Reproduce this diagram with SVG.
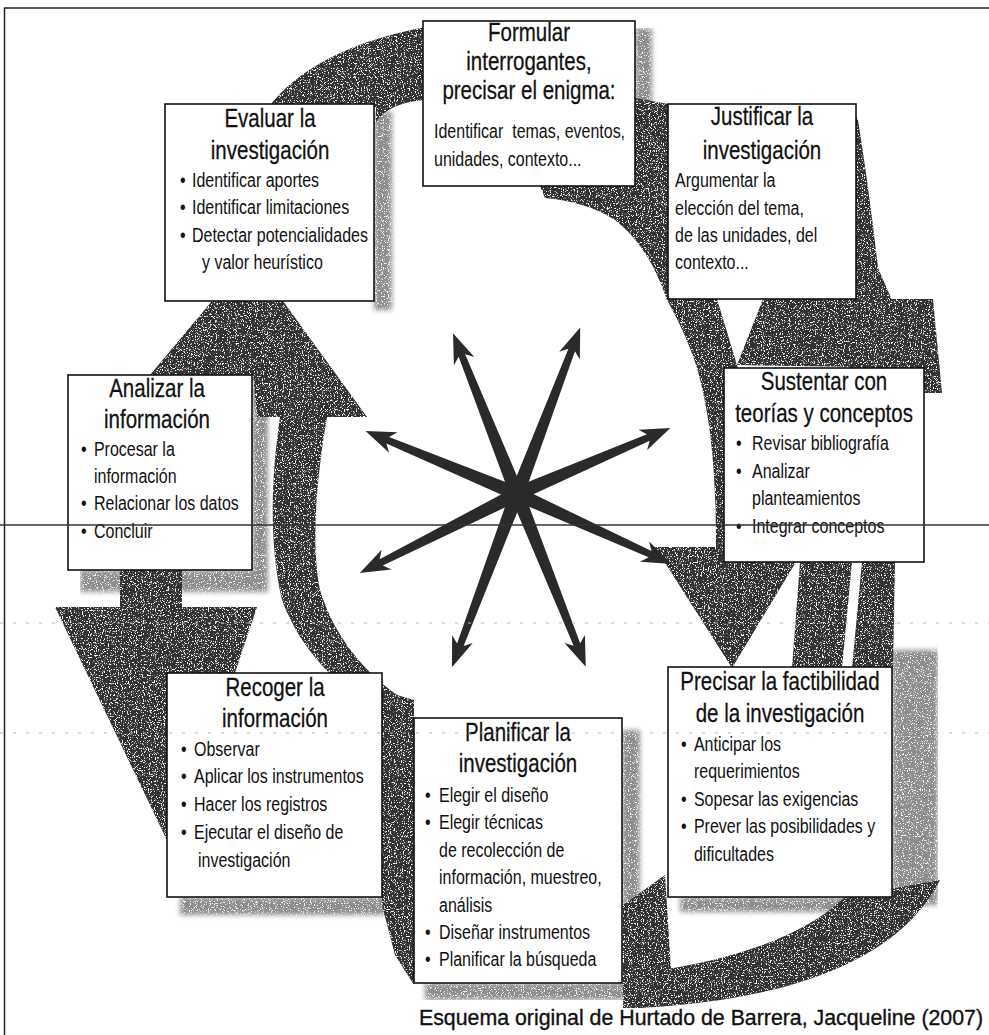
<svg xmlns="http://www.w3.org/2000/svg" width="989" height="1035" viewBox="0 0 989 1035">
<defs>
<style>
.box{fill:#fff;stroke:#111;stroke-width:1.6}
.t{font-family:'Liberation Sans',Arial,sans-serif;font-size:25px;fill:#111;text-anchor:middle;stroke:#111;stroke-width:0.25}
.b{font-family:'Liberation Sans',Arial,sans-serif;font-size:19.5px;fill:#111}
.band{fill:#333}
.sh{fill:#8d8d8d}
.arw{fill:#2a2a2a}
</style>
<filter id="speck" x="0" y="0" width="100%" height="100%">
<feTurbulence type="fractalNoise" baseFrequency="0.85" numOctaves="2" seed="4" result="noise"/>
<feColorMatrix in="noise" type="matrix" values="0 0 0 0 1  0 0 0 0 1  0 0 0 0 1  9 0 0 0 -5.2" result="dots"/>
<feComposite in="dots" in2="SourceGraphic" operator="in" result="wdots"/>
<feMerge><feMergeNode in="SourceGraphic"/><feMergeNode in="wdots"/></feMerge>
</filter>
<filter id="soft" x="-20%" y="-20%" width="140%" height="140%">
<feGaussianBlur stdDeviation="2.5"/>
</filter>
</defs>
<rect width="989" height="1035" fill="#fff"/>
<g id="frame" stroke="#222" stroke-width="1.5" fill="none">
<line x1="4.5" y1="8" x2="4.5" y2="1035"/>
<line x1="4" y1="8" x2="989" y2="8"/>
</g>
<g id="shadows" filter="url(#speck)">
<g class="sh" filter="url(#soft)">
<rect x="374" y="112" width="18" height="198"/>
<rect x="635" y="28" width="17" height="162"/>
<rect x="252" y="385" width="16" height="207"/>
<rect x="80" y="570" width="188" height="22"/>
<rect x="180" y="897" width="220" height="18"/>
<rect x="622" y="730" width="18" height="260"/>
<rect x="425" y="983" width="215" height="17"/>
<rect x="892" y="650" width="46" height="255"/>
<rect x="680" y="897" width="220" height="15"/>
</g>
</g>
<g id="ring" filter="url(#speck)">
<g class="band">
<path d="M268,108 C296,70 350,40 432,26 L432,100 C405,100 385,108 376,122 L376,108 Z"/>
<path d="M635,98 L668,104 L668,205 L635,186 Z"/>
<path d="M540,186 L640,186 C690,215 710,260 717,299 L737,365 L760,430 L740,547 L716,547 C716,480 712,420 697,368 C688,340 678,320 667,300 C655,265 640,240 615,220 C595,207 570,200 545,198 Z"/>
<path d="M763,299 L933,299 L942,393 L924,393 L924,368 L737,365 Z"/>
<path d="M850,104 L858,120 C866,170 874,230 878,268 L905,330 L942,393 L850,393 Z"/>
<path d="M655,547 L805,547 L732,668 Z"/>
<path d="M800,562 L852,562 L842,668 L792,668 Z"/>
<path d="M862,562 L895,562 L893,668 L852,668 Z"/>
<path d="M940,880 C900,960 790,1000 640,1008 L623,1008 L623,975 C720,965 800,940 845,897 Z"/>
<path d="M623,905 L665,875 L672,985 L623,985 Z"/>
<path d="M380,690 L414,700 L414,985 L395,955 L382,905 Z"/>
<path d="M280,417 C272,470 268,540 282,600 C300,650 340,690 390,720 L414,706 C370,680 335,640 320,590 C310,540 318,470 327,417 Z"/>
<path d="M212,301 L283,301 L367,417 L257,417 L253,375 L150,375 Z"/>
<rect x="120" y="565" width="62" height="45"/>
<path d="M55,607 L257,607 L174,855 Z"/>
</g>
</g>
<g id="star" class="arw">
<circle cx="517" cy="494" r="10"/>
<path transform="translate(517,494) rotate(-111.7)" d="M0,-7 L149,-3.5 L143,-11 L173,0 L143,11 L149,3.5 L0,7 Z"/>
<path transform="translate(517,494) rotate(-69.2)" d="M0,-7 L154,-3.5 L148,-11 L178,0 L148,11 L154,3.5 L0,7 Z"/>
<path transform="translate(517,494) rotate(-23.3)" d="M0,-7 L143,-3.5 L137,-11 L167,0 L137,11 L143,3.5 L0,7 Z"/>
<path transform="translate(517,494) rotate(24.3)" d="M0,-7 L146,-3.5 L140,-11 L170,0 L140,11 L146,3.5 L0,7 Z"/>
<path transform="translate(517,494) rotate(68.3)" d="M0,-7 L162,-3.5 L156,-11 L186,0 L156,11 L162,3.5 L0,7 Z"/>
<path transform="translate(517,494) rotate(110.6)" d="M0,-7 L161,-3.5 L155,-11 L185,0 L155,11 L161,3.5 L0,7 Z"/>
<path transform="translate(517,494) rotate(153.3)" d="M0,-7 L152,-3.5 L146,-11 L176,0 L146,11 L152,3.5 L0,7 Z"/>
<path transform="translate(517,494) rotate(-157.4)" d="M0,-7 L140,-3.5 L134,-11 L164,0 L134,11 L140,3.5 L0,7 Z"/>
</g>
<g id="formular">
<rect class="box" x="423" y="21" width="212" height="165"/>
<g transform="scale(0.82,1)">
<text class="t" x="645.1" y="41">Formular</text>
<text class="t" x="645.1" y="70">interrogantes,</text>
<text class="t" x="645.1" y="99">precisar el enigma:</text>
<text class="b" x="529.3" y="138" xml:space="preserve">Identificar  temas, eventos,</text>
<text class="b" x="529.3" y="166">unidades, contexto...</text>
</g>
</g>
<g id="evaluar">
<rect class="box" x="165" y="104" width="209" height="197"/>
<g transform="scale(0.82,1)">
<text class="t" x="329.3" y="127">Evaluar la</text>
<text class="t" x="329.3" y="159">investigación</text>
<text class="b" x="219.5" y="187">•</text><text class="b" x="234.1" y="187">Identificar aportes</text>
<text class="b" x="219.5" y="214">•</text><text class="b" x="234.1" y="214">Identificar limitaciones</text>
<text class="b" x="219.5" y="242">•</text><text class="b" x="234.1" y="242">Detectar potencialidades</text>
<text class="b" x="246.3" y="269">y valor heurístico</text>
</g>
</g>
<g id="justificar">
<rect class="box" x="668" y="104" width="188" height="195"/>
<g transform="scale(0.82,1)">
<text class="t" x="929.3" y="125">Justificar la</text>
<text class="t" x="929.3" y="159">investigación</text>
<text class="b" x="823.2" y="187">Argumentar la</text>
<text class="b" x="823.2" y="215">elección del tema,</text>
<text class="b" x="823.2" y="242">de las unidades, del</text>
<text class="b" x="823.2" y="269">contexto...</text>
</g>
</g>
<g id="analizar">
<rect class="box" x="68" y="375" width="184" height="195"/>
<g transform="scale(0.82,1)">
<text class="t" x="191.5" y="397">Analizar la</text>
<text class="t" x="191.5" y="428">información</text>
<text class="b" x="98.8" y="456">•</text><text class="b" x="114.6" y="456">Procesar la</text>
<text class="b" x="114.6" y="483">información</text>
<text class="b" x="98.8" y="510">•</text><text class="b" x="114.6" y="510">Relacionar los datos</text>
<text class="b" x="98.8" y="538">•</text><text class="b" x="114.6" y="538">Concluir</text>
</g>
</g>
<g id="sustentar">
<rect class="box" x="724" y="368" width="200" height="194"/>
<g transform="scale(0.82,1)">
<text class="t" x="1004.9" y="390">Sustentar con</text>
<text class="t" x="1004.9" y="422">teorías y conceptos</text>
<text class="b" x="897.6" y="450">•</text><text class="b" x="917.1" y="450">Revisar bibliografía</text>
<text class="b" x="897.6" y="478">•</text><text class="b" x="917.1" y="478">Analizar</text>
<text class="b" x="917.1" y="505">planteamientos</text>
<text class="b" x="897.6" y="533">•</text><text class="b" x="917.1" y="533">Integrar conceptos</text>
</g>
</g>
<g id="precisar">
<rect class="box" x="668" y="667" width="224" height="230"/>
<g transform="scale(0.82,1)">
<text class="t" x="951.2" y="690">Precisar la factibilidad</text>
<text class="t" x="951.2" y="722">de la investigación</text>
<text class="b" x="830.5" y="751">•</text><text class="b" x="846.3" y="751">Anticipar los</text>
<text class="b" x="846.3" y="778">requerimientos</text>
<text class="b" x="830.5" y="806">•</text><text class="b" x="846.3" y="806">Sopesar las exigencias</text>
<text class="b" x="830.5" y="833">•</text><text class="b" x="846.3" y="833">Prever las posibilidades y</text>
<text class="b" x="846.3" y="861">dificultades</text>
</g>
</g>
<g id="recoger">
<rect class="box" x="167" y="673" width="215" height="224"/>
<g transform="scale(0.82,1)">
<text class="t" x="335.4" y="696">Recoger la</text>
<text class="t" x="335.4" y="727">información</text>
<text class="b" x="220.7" y="756">•</text><text class="b" x="236.6" y="756">Observar</text>
<text class="b" x="220.7" y="783">•</text><text class="b" x="236.6" y="783">Aplicar los instrumentos</text>
<text class="b" x="220.7" y="811">•</text><text class="b" x="236.6" y="811">Hacer los registros</text>
<text class="b" x="220.7" y="839">•</text><text class="b" x="236.6" y="839">Ejecutar el diseño de</text>
<text class="b" x="241.5" y="867">investigación</text>
</g>
</g>
<g id="planificar">
<rect class="box" x="414" y="718" width="208" height="265"/>
<g transform="scale(0.82,1)">
<text class="t" x="631.7" y="741">Planificar la</text>
<text class="t" x="631.7" y="772">investigación</text>
<text class="b" x="518.3" y="802">•</text><text class="b" x="535.4" y="802">Elegir el diseño</text>
<text class="b" x="518.3" y="829">•</text><text class="b" x="535.4" y="829">Elegir técnicas</text>
<text class="b" x="535.4" y="857">de recolección de</text>
<text class="b" x="535.4" y="884">información, muestreo,</text>
<text class="b" x="535.4" y="912">análisis</text>
<text class="b" x="518.3" y="939">•</text><text class="b" x="535.4" y="939">Diseñar instrumentos</text>
<text class="b" x="518.3" y="966">•</text><text class="b" x="535.4" y="966">Planificar la búsqueda</text>
</g>
</g>
<g id="source">
<text x="419" y="1025" font-family="'Liberation Sans',Arial,sans-serif" font-size="21.5" fill="#111" stroke="#111" stroke-width="0.35" textLength="564" lengthAdjust="spacingAndGlyphs">Esquema original de Hurtado de Barrera, Jacqueline (2007)</text>
</g>
<g id="scanlines" fill="none">
<line x1="0" y1="525" x2="989" y2="525" stroke="#333" stroke-width="1.3"/>
<line x1="0" y1="623" x2="989" y2="623" stroke="#bbb" stroke-width="1" stroke-dasharray="3 10"/>
<line x1="0" y1="733" x2="989" y2="733" stroke="#bbb" stroke-width="1" stroke-dasharray="3 10"/>
</g>
</svg>
